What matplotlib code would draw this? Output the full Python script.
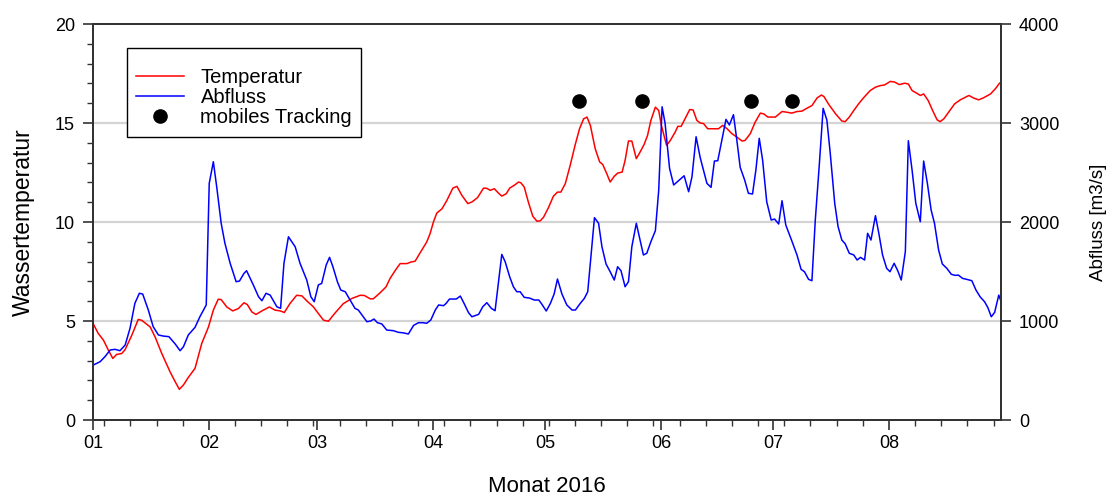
import numpy as np
import pandas as pd
import matplotlib
matplotlib.use('Agg')
import matplotlib.pyplot as plt
import matplotlib.dates as mdates
from matplotlib.lines import Line2D

plt.rcParams['font.family'] = ['Liberation Sans', 'DejaVu Sans']

# ---------- Data (days since 2016-01-01) ----------
START = pd.Timestamp('2016-01-01')

temp_days = [0, 1.4, 2.8, 4.1, 5.3, 6.3, 7.7, 8.6, 10.4, 12.1, 13.0, 15.3, 16.6, 18.4, 20.6,
             22.0, 23.1, 24.2, 25.5, 27.3, 29.1, 30.9, 32.2, 33.5, 34.3, 35.8, 37.4, 38.9,
             40.4, 41.3, 42.5, 43.6, 45.2, 47.2, 48.7, 50.1, 51.2, 52.7, 54.5, 55.9, 57.2,
             59.0, 60.3, 61.7, 63.0, 64.8, 67.0, 69.3, 71.5, 72.6, 74.2, 75.0, 76.8, 78.4,
             79.5, 80.9, 82.2, 84.0, 85.1, 86.2, 87.4, 89.3, 90.2, 91.1, 92.0, 93.4, 94.7,
             96.3, 97.4, 98.7, 100.3, 101.4, 102.9, 104.5, 105.4, 106.3, 107.4, 108.5,
             109.4, 110.6, 111.5, 112.7, 113.9, 114.5, 115.4, 116.5, 117.7, 118.8, 119.7,
             120.6, 121.9, 123.2, 124.3, 125.2, 126.4, 127.7, 129.0, 130.2, 131.3, 132.2,
             133.1, 134.4, 135.6, 136.4, 137.5, 138.4, 139.5, 140.4, 141.6, 142.4, 143.3,
             144.2, 145.4, 146.4, 147.5, 148.4, 149.3, 150.5, 151.4, 152.1, 153.5, 154.5,
             155.8, 156.5, 157.4, 158.6, 159.7, 160.6, 161.6, 162.5, 163.4, 164.5, 166.1,
             167.4, 168.5, 169.7, 171.0, 172.3, 173.7, 174.5, 175.9, 177.2, 178.6, 179.5,
             180.6, 182.6, 184.4, 185.5, 187.0, 188.4, 189.7, 191.1, 192.4, 193.8, 194.9,
             195.6, 196.9, 198.7, 200.4, 201.3, 202.4, 203.6, 204.9, 206.2, 208.0, 209.4,
             210.7, 211.8, 213.4, 214.5, 215.8, 217.2, 218.2, 219.2, 220.5, 221.4, 222.3,
             223.5, 224.7, 225.9, 226.7, 227.7, 229.0, 230.6, 232.1, 234.4, 235.7, 237.0,
             238.3, 240.2, 241.5, 242.6, 243.3]
temp_vals = [4.88, 4.37, 4.03, 3.53, 3.11, 3.31, 3.36, 3.56, 4.29, 5.08, 5.04, 4.70, 4.20, 3.36,
             2.44, 1.93, 1.55, 1.77, 2.15, 2.61, 3.87, 4.70, 5.55, 6.10, 6.08, 5.71, 5.51,
             5.63, 5.92, 5.83, 5.46, 5.33, 5.51, 5.71, 5.55, 5.51, 5.43, 5.88, 6.30, 6.27,
             6.02, 5.71, 5.38, 5.04, 4.99, 5.41, 5.88, 6.14, 6.30, 6.29, 6.12, 6.12, 6.42,
             6.72, 7.15, 7.56, 7.90, 7.90, 7.98, 8.02, 8.40, 8.99, 9.41, 10.00, 10.45, 10.67,
             11.09, 11.71, 11.80, 11.35, 10.93, 11.01, 11.23, 11.71, 11.70, 11.60, 11.68,
             11.46, 11.31, 11.43, 11.71, 11.85, 12.02, 11.98, 11.77, 11.01, 10.29, 10.04,
             10.06, 10.25, 10.73, 11.30, 11.51, 11.51, 11.94, 12.86, 13.87, 14.71, 15.21,
             15.30, 14.88, 13.70, 13.03, 12.91, 12.44, 12.02, 12.31, 12.47, 12.52, 13.11,
             14.09, 14.09, 13.20, 13.53, 13.92, 14.37, 15.13, 15.80, 15.63, 14.88, 13.87,
             14.12, 14.54, 14.83, 14.83, 15.27, 15.68, 15.66, 15.13, 15.00, 14.97, 14.71,
             14.71, 14.71, 14.88, 14.71, 14.46, 14.29, 14.09, 14.12, 14.46, 15.04, 15.50,
             15.46, 15.30, 15.30, 15.58, 15.55, 15.50, 15.58, 15.60, 15.75, 15.88, 16.27,
             16.41, 16.34, 15.94, 15.47, 15.10, 15.07, 15.30, 15.63, 15.97, 16.27, 16.64,
             16.81, 16.89, 16.92, 17.10, 17.07, 16.94, 17.01, 16.97, 16.64, 16.50, 16.39,
             16.47, 16.14, 15.63, 15.16, 15.07, 15.21, 15.55, 15.97, 16.17, 16.39, 16.26,
             16.17, 16.27, 16.47, 16.73, 17.01, 17.07]

flow_days = [0.1, 1.9, 3.2, 4.6, 5.9, 7.2, 8.6, 9.9, 11.2, 12.4, 13.3, 14.8, 16.1, 17.5, 18.8,
             20.3, 22.0, 23.3, 24.2, 25.5, 27.3, 28.6, 30.3, 31.1, 32.2, 33.1, 34.3, 35.3,
             36.7, 38.3, 39.2, 40.4, 41.1, 42.9, 44.3, 45.2, 46.3, 47.4, 49.2, 50.2, 51.1,
             52.3, 54.1, 55.4, 57.2, 58.3, 59.2, 60.3, 61.2, 62.4, 63.3, 64.2, 65.4, 66.3,
             67.5, 68.8, 70.1, 71.0, 72.2, 73.3, 74.3, 75.2, 76.1, 77.3, 78.6, 80.4, 81.7,
             83.1, 84.4, 85.8, 87.1, 88.3, 89.3, 90.4, 91.6, 92.5, 93.8, 94.5, 95.4, 97.2,
             98.3, 99.3, 100.5, 101.4, 103.2, 104.3, 105.4, 106.6, 107.6, 109.4, 110.3,
             111.5, 112.5, 113.4, 114.3, 115.4, 116.8, 118.1, 119.3, 120.1, 121.3, 122.4,
             123.4, 124.3, 125.5, 126.8, 128.2, 129.1, 130.4, 131.5, 132.4, 134.2, 135.3,
             136.2, 137.3, 138.4, 139.5, 140.4, 141.3, 142.4, 143.3, 144.2, 145.4, 146.4,
             147.3, 148.2, 149.3, 150.5, 151.4, 152.3, 153.1, 154.3, 155.4, 156.7, 158.2,
             159.4, 160.3, 161.4, 162.5, 164.3, 165.4, 166.3, 167.2, 168.3, 169.4, 170.3,
             171.4, 172.3, 173.2, 174.4, 175.4, 176.5, 177.4, 178.3, 179.2, 180.3, 181.5,
             182.4, 183.5, 184.4, 185.4, 187.0, 188.4, 189.5, 190.4, 191.5, 192.4, 193.3,
             194.4, 195.4, 196.4, 197.3, 198.5, 199.4, 200.4, 201.3, 202.4, 203.6, 204.5,
             205.4, 206.5, 207.3, 208.2, 209.4, 210.3, 211.3, 212.4, 213.3, 214.4, 215.4,
             216.3, 217.4, 218.2, 219.2, 220.2, 221.4, 222.3, 223.3, 224.3, 225.2, 226.3,
             227.3, 228.5, 229.7, 230.7, 231.6, 232.7, 233.8, 235.2, 236.3, 237.4, 238.6,
             239.5, 240.4, 241.3, 242.4, 243.2]
flow_vals = [556, 589, 640, 707, 714, 700, 757, 926, 1178, 1280, 1272, 1111, 943, 859, 848,
             842, 768, 700, 740, 859, 936, 1043, 1162, 2390, 2609, 2356, 1987, 1785, 1583,
             1397, 1404, 1481, 1508, 1364, 1245, 1205, 1280, 1262, 1144, 1128, 1583, 1851,
             1750, 1583, 1414, 1245, 1195, 1364, 1380, 1565, 1643, 1548, 1397, 1313, 1296,
             1212, 1128, 1111, 1050, 993, 1000, 1020, 983, 970, 909, 902, 886, 880, 869, 956,
             983, 983, 977, 1010, 1111, 1162, 1155, 1178, 1222, 1222, 1252, 1178, 1084, 1043,
             1067, 1144, 1185, 1128, 1104, 1673, 1599, 1448, 1346, 1296, 1296, 1239, 1232,
             1212, 1212, 1171, 1101, 1178, 1272, 1424, 1272, 1162, 1111, 1111, 1178, 1229,
             1296, 2044, 1987, 1750, 1576, 1498, 1414, 1548, 1508, 1346, 1397, 1750, 1987,
             1818, 1667, 1684, 1801, 1912, 2323, 3164, 2997, 2542, 2374, 2417, 2467, 2306,
             2457, 2861, 2650, 2390, 2350, 2616, 2619, 2828, 3037, 2980, 3084, 2828, 2552,
             2424, 2290, 2283, 2525, 2845, 2626, 2205, 2020, 2030, 1980, 2215, 1970, 1811,
             1667, 1522, 1498, 1421, 1407, 2020, 2593, 3148, 3030, 2694, 2189, 1953, 1818,
             1780, 1684, 1667, 1616, 1643, 1616, 1886, 1818, 2064, 1886, 1667, 1532, 1498,
             1583, 1505, 1414, 1700, 2821, 2525, 2189, 2003, 2616, 2390, 2121, 1987, 1717,
             1576, 1532, 1472, 1461, 1464, 1431, 1421, 1407, 1313, 1245, 1195, 1134, 1043,
             1087, 1262, 1178]

tracking_dates = ['2016-05-10', '2016-05-27', '2016-06-25', '2016-07-06']
tracking_level = [16.1, 16.1, 16.1, 16.1]

temp_t = START + pd.to_timedelta(temp_days, unit='D')
flow_t = START + pd.to_timedelta(flow_days, unit='D')
track_t = pd.to_datetime(tracking_dates)

# ---------- Plot ----------
fig = plt.figure(figsize=(11.10, 4.97), dpi=100)
ax = fig.add_axes([0.0838, 0.1549, 0.8180, 0.7968])
ax2 = ax.twinx()

spine_col = '#333333'
for a in (ax, ax2):
    for s in a.spines.values():
        s.set_color(spine_col)
        s.set_linewidth(1.4)

ax.set_axisbelow(True)
for y in (5, 10, 15):
    ax.axhline(y, color='#d4d4d4', linewidth=1.6, zorder=0)

ax.plot(temp_t, temp_vals, color='#ff0000', linewidth=1.1, zorder=2)
ax2.plot(flow_t, flow_vals, color='#0000ff', linewidth=1.1, zorder=2)
# tracking days sit on the temperature scale (left axis): 1 °C = 200 m3/s on the twin
ax2.plot(track_t, np.array(tracking_level) * 200, 'o', color='black', markersize=9.5,
         zorder=3, clip_on=False)

ax.set_xlim(START, pd.Timestamp('2016-08-31'))
ax.set_ylim(0, 20)
ax2.set_ylim(0, 4000)

ax.xaxis.set_major_locator(mdates.MonthLocator())
ax.xaxis.set_major_formatter(mdates.DateFormatter('%m'))
ax.xaxis.set_minor_locator(mdates.WeekdayLocator(byweekday=mdates.MO))
ax.set_yticks([0, 5, 10, 15, 20])
ax.set_yticks(np.arange(0, 21, 1), minor=True)
ax2.set_yticks([0, 1000, 2000, 3000, 4000])

for a in (ax, ax2):
    a.tick_params(which='major', direction='out', length=7, width=1.2, color=spine_col,
                  labelsize=13, pad=6)
    a.tick_params(which='minor', direction='out', length=4, width=1.0, color=spine_col)
ax.tick_params(axis='x', pad=4)

ax.set_xlabel('Monat 2016', fontsize=16, labelpad=17)
ax.set_ylabel('Wassertemperatur', fontsize=16.5, labelpad=14)
ax2.set_ylabel('Abfluss [m3/s]', fontsize=13.5, labelpad=22)

handles = [Line2D([], [], color='#ff0000', linewidth=1.1),
           Line2D([], [], color='#0000ff', linewidth=1.1),
           Line2D([], [], marker='o', linestyle='none', color='black', markersize=9.5)]
# an empty small title leaves the extra room above the first entry
leg = ax2.legend(handles, ['Temperatur', 'Abfluss', 'mobiles Tracking'],
                 loc='upper left', bbox_to_anchor=(0.0374, 0.939), fontsize=14.5,
                 title=' ', title_fontsize=6.5,
                 frameon=True, fancybox=False, framealpha=1, edgecolor='black',
                 handlelength=2.4, handletextpad=0.8, labelspacing=0.07,
                 borderpad=0.45, borderaxespad=0)
leg.get_frame().set_linewidth(1.0)

fig.savefig('out.png', dpi=100)
